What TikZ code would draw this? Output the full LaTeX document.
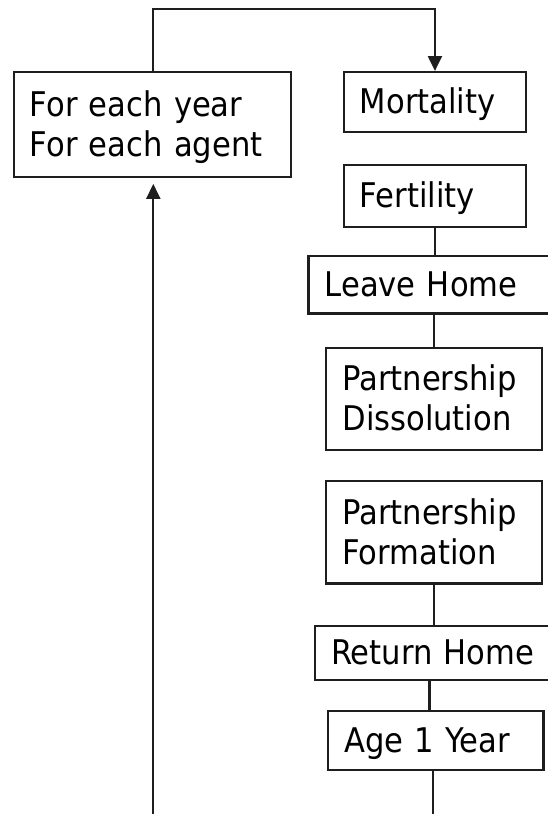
\documentclass[tikz,border=0pt]{standalone}
\usepackage{fontspec}
\setmainfont{DejaVu Sans Condensed}
\usetikzlibrary{arrows.meta}
\definecolor{ink}{HTML}{1E1E1E}
\tikzset{
  box/.style={draw=ink, line width=2.2pt, anchor=north west, inner xsep=16pt, inner ysep=0pt,
    align=left, font=\fontsize{34}{40}\selectfont, text=black, text height=23pt, text depth=0pt},
  twoline/.style={text depth=39pt},
  conn/.style={draw=ink, line width=2.2pt},
  arr/.style={conn, -{Triangle[length=15pt, width=14pt]}}
}
\begin{document}
\begin{tikzpicture}[x=1pt, y=1pt]
\useasboundingbox (0,0) rectangle (547,-814);
\node[box, twoline, minimum width=277.3pt, minimum height=104.7pt, text width=245pt] (loop) at (12.7,-71) {For each year\\For each agent};
\node[box, minimum width=182.3pt, minimum height=60pt, text width=150pt] (mort) at (342.7,-71) {Mortality};
\node[box, minimum width=182.3pt, minimum height=61.7pt, text width=150pt] (fert) at (342.7,-164) {Fertility};
\node[box, minimum width=252.7pt, minimum height=57.3pt, text width=220pt] (leave) at (307.3,-255) {Leave Home};
\node[box, twoline, minimum width=215.7pt, minimum height=102.3pt, text width=183pt] (diss) at (325,-346.7) {Partnership\\Dissolution};
\node[box, twoline, minimum width=215.7pt, minimum height=102.3pt, text width=183pt] (form) at (325,-480) {Partnership\\Formation};
\node[box, minimum width=246pt, minimum height=54pt, text width=214pt] (ret) at (314,-625) {Return Home};
\node[box, minimum width=215.6pt, minimum height=59pt, text width=183pt] (age) at (326.7,-710) {Age 1 Year};
\coordinate (top) at (153.3,-9);
\coordinate (botL) at (153.3,-814);
\coordinate (botR) at (433.3,-814);
\draw[arr] (loop.north -| top) -- (top) -| (mort.north);
\draw[conn] (fert.south) -- (fert.south |- leave.north);
\draw[conn] (diss.north |- leave.south) -- (diss.north);
\draw[conn] (form.south) -- (form.south |- ret.north);
\draw[conn] ([xshift=-6.2pt]age.north |- ret.south) -- ([xshift=-6.2pt]age.north);
\draw[conn] (age.south -| botR) -- (botR);
\draw[arr] (botL) -- ([yshift=-6pt]loop.south -| botL);
\end{tikzpicture}
\end{document}
